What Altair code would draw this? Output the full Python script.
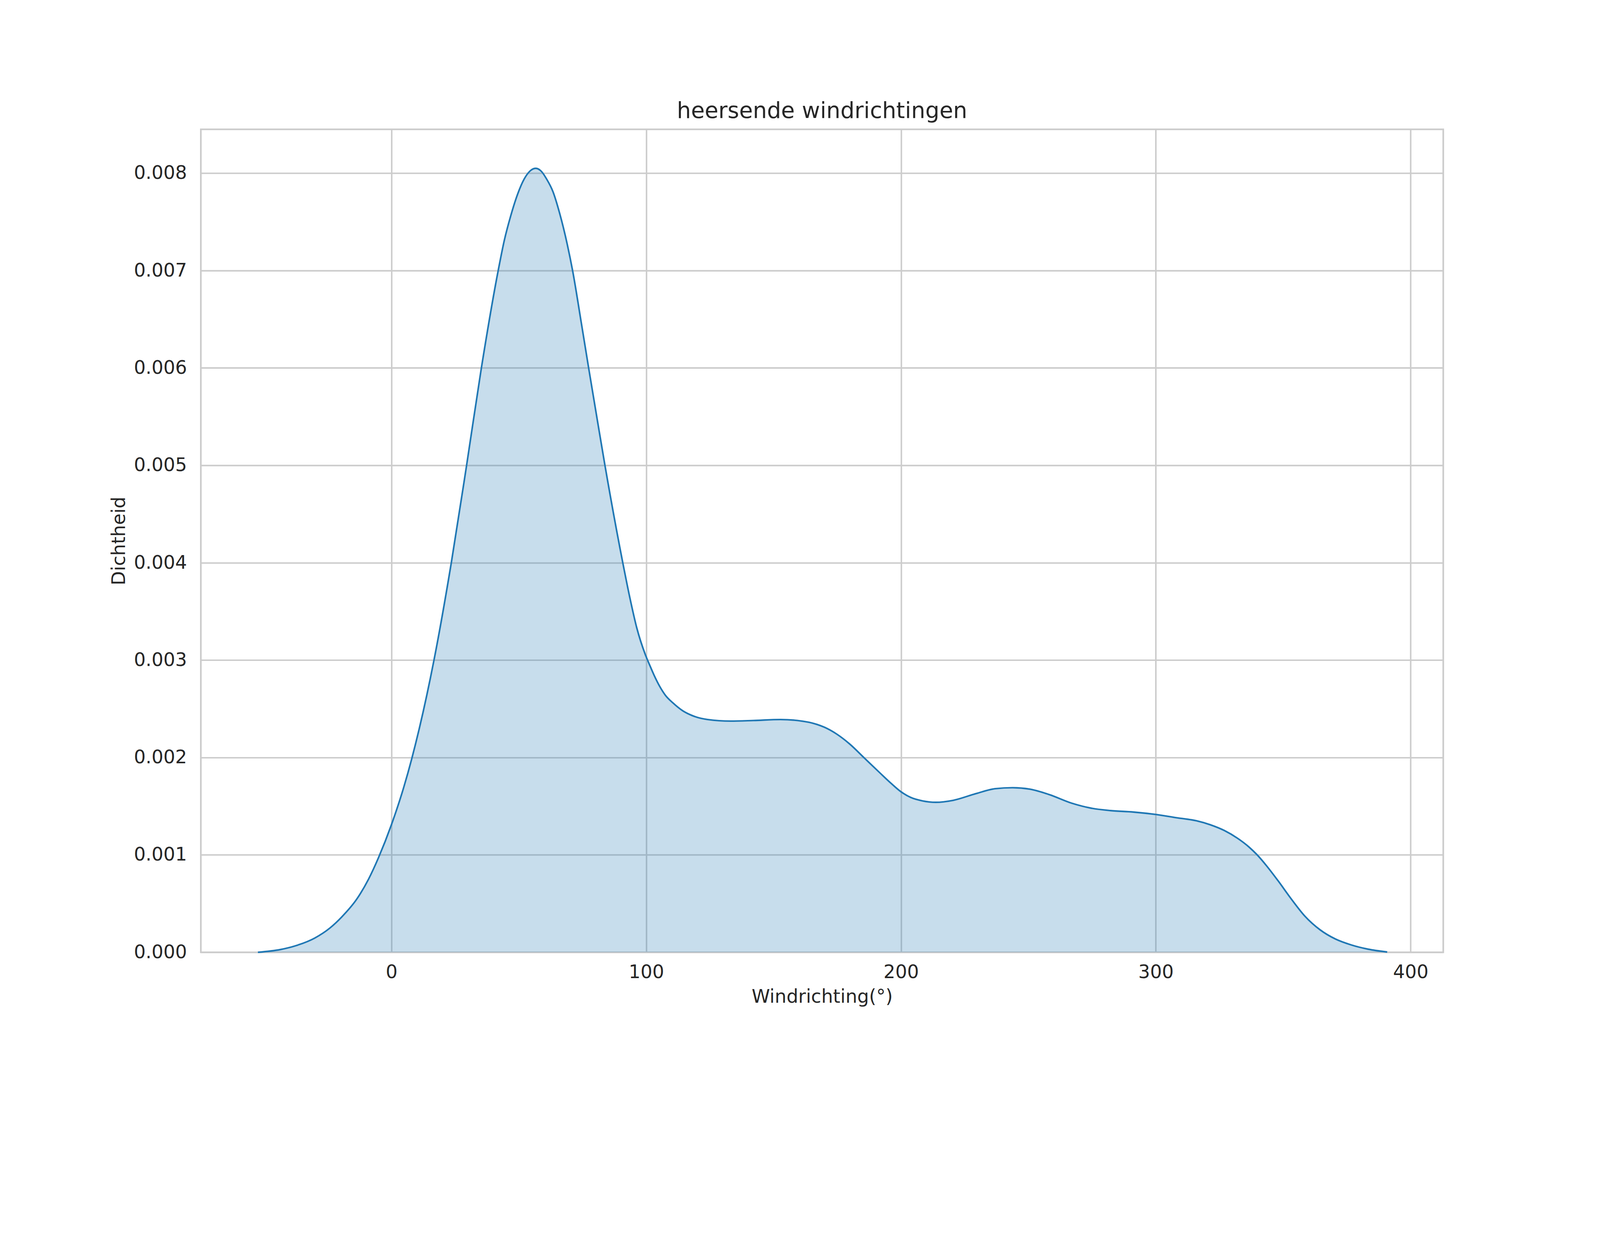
import pandas as pd
import altair as alt

# KDE of prevailing wind direction
DIRECTION = [
    -52.4, -43.6, -37.6, -30.1, -24.1, -19.6, -13.5, -9.0, -5.1, 0.0,
    4.9, 7.9, 16.7, 23.5, 29.5, 35.3, 41.9, 44.3, 46.8, 49.6,
    52.1, 54.3, 56.6, 58.8, 60.9, 63.4, 66.0, 69.0, 71.1, 74.6,
    77.4, 80.9, 83.8, 90.8, 93.5, 96.3, 99.6, 101.5, 103.0, 105.3,
    107.5, 110.5, 114.3, 118.1, 124.1, 133.1, 142.1, 152.7, 159.4, 167.0,
    170.0, 174.5, 179.8, 185.8, 191.8, 196.3, 199.9, 203.8, 208.4, 213.6,
    220.4, 229.5, 237.0, 243.8, 250.6, 258.1, 267.1, 274.6, 282.2, 291.2,
    300.0, 308.5, 316.0, 321.3, 326.9, 332.1, 336.6, 339.6, 343.4, 347.9,
    353.2, 358.5, 364.5, 370.5, 376.5, 383.3, 390.8,
]
DENSITY = [
    0.0, 0.000028, 0.000067, 0.000146, 0.00025, 0.00036, 0.00055, 0.00075, 0.00097, 0.00131,
    0.0017, 0.00198, 0.003, 0.004, 0.005, 0.006, 0.007, 0.00731, 0.00756, 0.00779,
    0.00794, 0.00802, 0.00805, 0.00802, 0.00794, 0.00781, 0.00759, 0.00727, 0.007, 0.00645,
    0.006, 0.00545, 0.005, 0.004, 0.00365, 0.00333, 0.00306, 0.00294, 0.00285, 0.00273,
    0.00264, 0.00256, 0.00248, 0.00243, 0.00239, 0.002374, 0.00238, 0.00239, 0.00238, 0.00234,
    0.00231, 0.002245, 0.00214, 0.00199, 0.00184, 0.00173, 0.00165, 0.00159, 0.001555, 0.00154,
    0.00156, 0.00163, 0.00168, 0.00169, 0.001675, 0.00162, 0.00153, 0.00148, 0.001455, 0.00144,
    0.001415, 0.00138, 0.00135, 0.00131, 0.00125, 0.00117, 0.00108, 0.001005, 0.00089, 0.000737,
    0.000546, 0.000371, 0.00023, 0.000136, 0.000077, 0.000032, 0.000003,
]
X_TICKS = [0, 100, 200, 300, 400]
Y_TICKS = [0.0, 0.001, 0.002, 0.003, 0.004, 0.005, 0.006, 0.007, 0.008]

LINE_COLOR = "#1f77b4"
TEXT_COLOR = "#262626"
GRID_COLOR = "#cccccc"
FONT = "DejaVu Sans"

df = pd.DataFrame({"richting": DIRECTION, "dichtheid": DENSITY})

x_enc = alt.X("richting:Q").scale(domain=[-74.8, 412.8], nice=False, zero=False).axis(
    values=X_TICKS, format="d", title="Windrichting(°)", labelPadding=33, titlePadding=18
)
y_enc = alt.Y("dichtheid:Q").scale(domain=[0, 0.00845], nice=False).axis(
    values=Y_TICKS, format=".3f", title="Dichtheid", labelPadding=42, titlePadding=16
)

base = alt.Chart(df).encode(x=x_enc, y=y_enc)

# filled KDE with the outline on top
area = base.mark_area(color=LINE_COLOR, fillOpacity=0.25, interpolate="monotone")
line = base.mark_line(color=LINE_COLOR, strokeWidth=4.8, interpolate="monotone")

chart = (
    (area + line)
    .properties(
        width=3720,
        height=2464,
        title=alt.TitleParams(
            "heersende windrichtingen",
            font=FONT,
            fontSize=66.7,
            fontWeight="normal",
            color=TEXT_COLOR,
            anchor="middle",
            baseline="alphabetic",
            offset=-33,
        ),
        autosize=alt.AutoSizeParams(type="none"),
        padding={"left": 592, "top": 130, "right": 460, "bottom": 330},
        background="white",
    )
    .configure_view(stroke=GRID_COLOR, strokeWidth=5)
    .configure_axis(
        domain=False,
        ticks=False,
        grid=True,
        gridColor=GRID_COLOR,
        gridWidth=4.5,
        labelFont=FONT,
        labelFontSize=55.6,
        labelColor=TEXT_COLOR,
        titleFont=FONT,
        titleFontSize=55.6,
        titleFontWeight="normal",
        titleColor=TEXT_COLOR,
    )
)

chart.save("out.html", embed_options={"renderer": "svg", "actions": False})
